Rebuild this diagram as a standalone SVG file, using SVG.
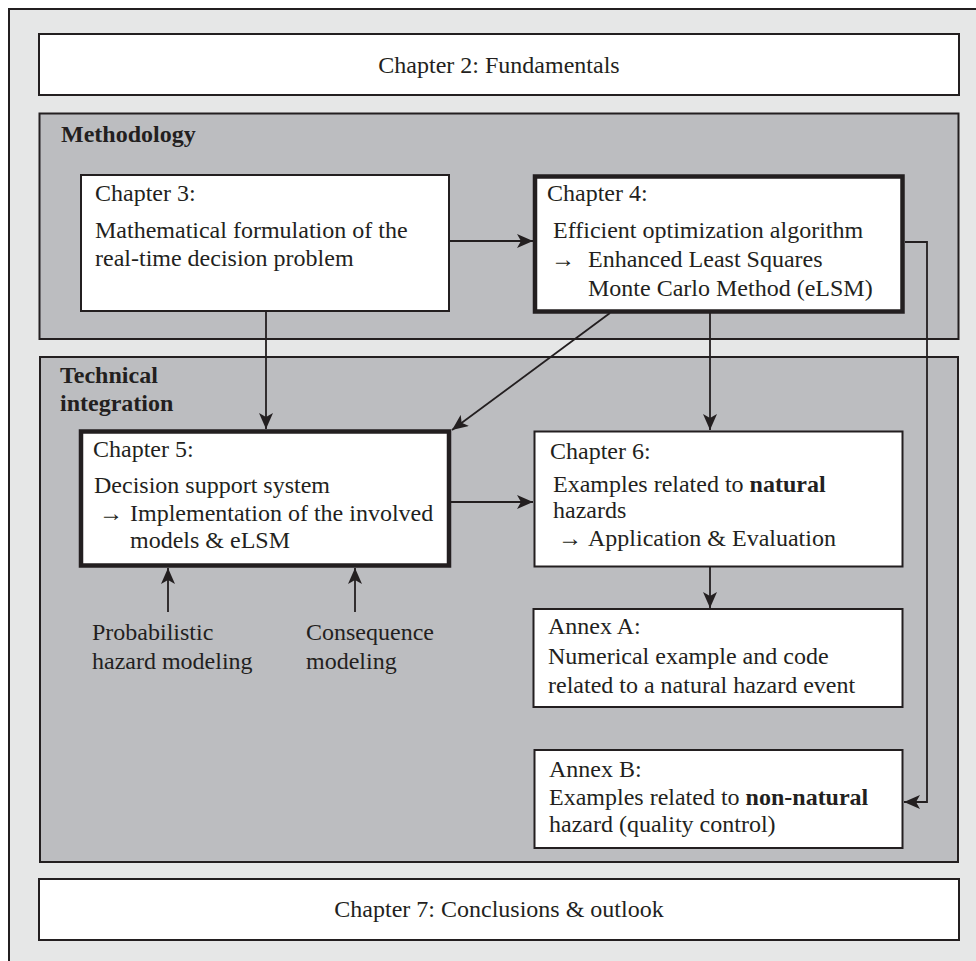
<svg xmlns="http://www.w3.org/2000/svg" width="976" height="961" viewBox="0 0 976 961">
<defs>
<style>
.frame{fill:#e6e7e7;stroke:#231f20;stroke-width:2}
.panel{fill:#bcbdc0;stroke:#231f20;stroke-width:2}
.box{fill:#ffffff;stroke:#231f20;stroke-width:2}
.thick{fill:#ffffff;stroke:#231f20;stroke-width:4.5}
text{font-family:"Liberation Serif","Times New Roman",serif;font-size:24px;fill:#231f20}
.b{font-weight:bold}
.c{text-anchor:middle}
.con{fill:none;stroke:#231f20;stroke-width:1.8}
</style>
<marker id="ah" markerUnits="userSpaceOnUse" viewBox="0 0 16 14" refX="16" refY="7" markerWidth="16" markerHeight="14" orient="auto">
<path d="M0,0 L16,7 L0,14 L4,7 Z" fill="#231f20"/>
</marker>
</defs>
<rect class="frame" x="9" y="9" width="1000" height="1000"/>
<g id="ch2">
<rect class="box" x="39" y="34" width="920" height="61"/>
<text class="c" x="499" y="73">Chapter 2: Fundamentals</text>
</g>
<g id="methodology">
<rect class="panel" x="39.5" y="113.5" width="919" height="225.5"/>
<text class="b" x="61" y="142">Methodology</text>
</g>
<g id="technical">
<rect class="panel" x="40" y="357" width="918" height="505"/>
<text class="b" x="60" y="383">Technical</text>
<text class="b" x="60" y="411">integration</text>
</g>
<g id="ch3">
<rect class="box" x="81" y="175" width="368" height="136"/>
<text x="95" y="201">Chapter 3:</text>
<text x="95" y="238">Mathematical formulation of the</text>
<text x="95" y="266">real-time decision problem</text>
</g>
<g id="ch4">
<rect class="thick" x="535" y="176.5" width="367.5" height="135"/>
<text x="547" y="201">Chapter 4:</text>
<text x="553" y="238">Efficient optimization algorithm</text>
<text x="551" y="267">→</text>
<text x="588" y="267">Enhanced Least Squares</text>
<text x="588" y="296">Monte Carlo Method (eLSM)</text>
</g>
<g id="ch5">
<rect class="thick" x="81" y="431.5" width="368" height="134"/>
<text x="93" y="457">Chapter 5:</text>
<text x="94" y="493">Decision support system</text>
<text x="99" y="521">→</text>
<text x="130" y="521">Implementation of the involved</text>
<text x="130" y="548">models &amp; eLSM</text>
</g>
<g id="ch6">
<rect class="box" x="534.5" y="431.5" width="368" height="135"/>
<text x="550" y="459">Chapter 6:</text>
<text x="553" y="492">Examples related to <tspan class="b">natural</tspan></text>
<text x="553" y="518">hazards</text>
<text x="558" y="546">→</text>
<text x="588" y="546">Application &amp; Evaluation</text>
</g>
<g id="annexA">
<rect class="box" x="533.5" y="609" width="369" height="98"/>
<text x="548" y="634">Annex A:</text>
<text x="548" y="664">Numerical example and code</text>
<text x="548" y="693">related to a natural hazard event</text>
</g>
<g id="annexB">
<rect class="box" x="534.5" y="750" width="368" height="98"/>
<text x="549" y="777">Annex B:</text>
<text x="549" y="805">Examples related to <tspan class="b">non-natural</tspan></text>
<text x="549" y="832">hazard (quality control)</text>
</g>
<g id="inputs">
<text x="92" y="640">Probabilistic</text>
<text x="92" y="669">hazard modeling</text>
<text x="306" y="640">Consequence</text>
<text x="306" y="669">modeling</text>
</g>
<g id="ch7">
<rect class="box" x="39" y="879" width="920" height="61"/>
<text class="c" x="499" y="917">Chapter 7: Conclusions &amp; outlook</text>
</g>
<g id="connectors">
<path class="con" d="M449,241 H533" marker-end="url(#ah)"/>
<path class="con" d="M266,311 V429" marker-end="url(#ah)"/>
<path class="con" d="M610,313 L452,430" marker-end="url(#ah)"/>
<path class="con" d="M710,313 V430" marker-end="url(#ah)"/>
<path class="con" d="M451,502 H533" marker-end="url(#ah)"/>
<path class="con" d="M710,567 V608" marker-end="url(#ah)"/>
<path class="con" d="M905,242 H927 V802 H904" marker-end="url(#ah)"/>
<path class="con" d="M168,612 V568" marker-end="url(#ah)"/>
<path class="con" d="M355,612 V568" marker-end="url(#ah)"/>
</g>
</svg>
